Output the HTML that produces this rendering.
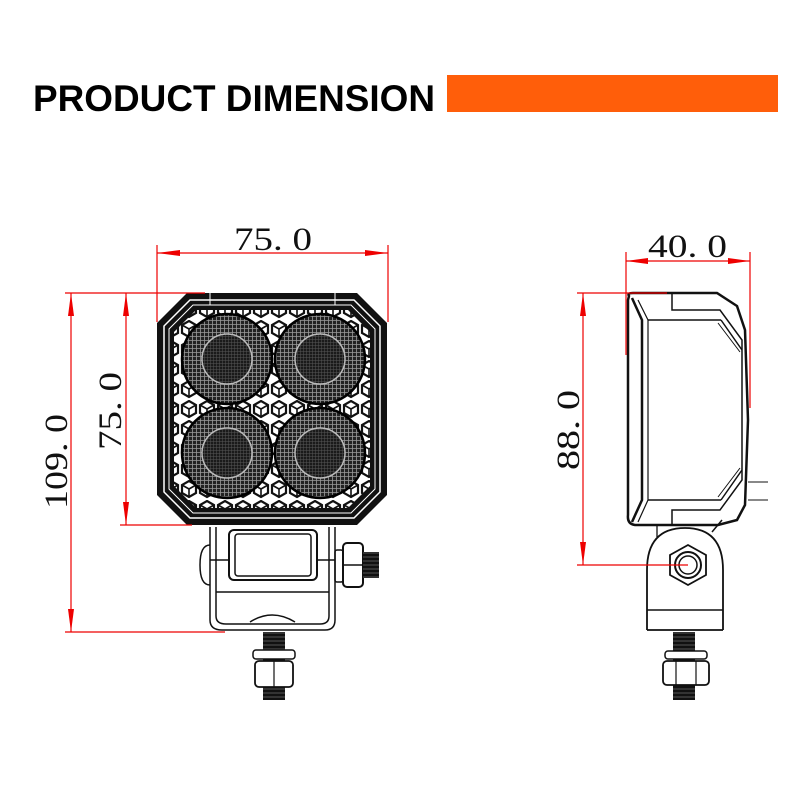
<!DOCTYPE html>
<html><head><meta charset="utf-8"><style>
html,body{margin:0;padding:0;background:#fff;width:800px;height:800px;overflow:hidden}
svg{display:block}
</style></head><body>
<svg width="800" height="800" viewBox="0 0 800 800" xmlns="http://www.w3.org/2000/svg">
<defs>
<pattern id="hex" width="18" height="20" patternUnits="userSpaceOnUse">
<rect width="18" height="20" fill="#fff"/>
<path d="M9 1 L16 5 L16 13 L9 17 L2 13 L2 5 Z" fill="none" stroke="#111" stroke-width="2.2"/>
<path d="M9 9 L9 17 M9 9 L2 5 M9 9 L16 5" stroke="#111" stroke-width="1.6"/>
</pattern>
<pattern id="grid" width="4" height="4" patternUnits="userSpaceOnUse">
<rect width="4" height="4" fill="#222"/>
<path d="M0 0.5H4M0.5 0V4" stroke="#9a9a9a" stroke-width="0.8"/>
</pattern>
<pattern id="fine" width="3" height="3" patternUnits="userSpaceOnUse">
<rect width="3" height="3" fill="#1a1a1a"/>
<path d="M0 0.5H3M0.5 0V3" stroke="#555" stroke-width="0.5"/>
</pattern>
<pattern id="thread" width="6" height="4" patternUnits="userSpaceOnUse">
<rect width="6" height="4" fill="#111"/>
<path d="M0 1H6" stroke="#666" stroke-width="0.8"/>
</pattern>
</defs>

<text x="33" y="111" font-family="Liberation Sans, sans-serif" font-weight="bold" font-size="37" textLength="402" lengthAdjust="spacingAndGlyphs" fill="#000">PRODUCT DIMENSION</text>
<rect x="447" y="75" width="331" height="37" fill="#FF5E0A"/>

<path d="M187 293 L357 293 L387 323 L387 495 L357 525 L187 525 L157 495 L157 323 Z" fill="#111"/>
<path d="M190 300 L354 300 L380 326 L380 492 L354 518 L190 518 L164 492 L164 326 Z" fill="none" stroke="#fff" stroke-width="1.5"/>
<path d="M193 305 L351 305 L375 329 L375 489 L351 513 L193 513 L169 489 L169 329 Z" fill="#111" stroke="#fff" stroke-width="1"/>
<path d="M196 310 L348 310 L370 332 L370 486 L348 508 L196 508 L174 486 L174 332 Z" fill="url(#hex)"/>
<line x1="210" y1="293" x2="210" y2="305" stroke="#fff" stroke-width="1"/>
<line x1="335" y1="293" x2="335" y2="305" stroke="#fff" stroke-width="1"/>
<g stroke="#000" stroke-width="2.5">
<circle cx="227" cy="359" r="45" fill="url(#grid)"/>
<circle cx="320" cy="359" r="45" fill="url(#grid)"/>
<circle cx="227" cy="453" r="45" fill="url(#grid)"/>
<circle cx="320" cy="453" r="45" fill="url(#grid)"/>
</g>
<g stroke="#bbb" stroke-width="1.5" fill="url(#fine)">
<circle cx="227" cy="359" r="25"/>
<circle cx="320" cy="359" r="25"/>
<circle cx="227" cy="453" r="25"/>
<circle cx="320" cy="453" r="25"/>
</g>

<g fill="none" stroke="#111" stroke-width="1.5">
<path d="M210 527 L210 620 Q210 630 222 630 L325 630 Q335 630 335 620 L335 527"/>
<path d="M216 527 L216 616 Q216 624 226 624 L320 624 Q329 624 329 616 L329 527"/>
<rect x="229" y="530" width="88" height="50" rx="5" stroke-width="2"/>
<rect x="235" y="534" width="76" height="42" rx="3"/>
<line x1="210" y1="560" x2="229" y2="560"/>
<line x1="317" y1="560" x2="335" y2="560"/>
<line x1="216" y1="592" x2="329" y2="592"/>
<path d="M210 545 Q200 545 200 565 Q200 585 210 585"/>
<path d="M250 622 Q272 608 295 622"/>
<rect x="335" y="550" width="8" height="32" rx="2"/>
<rect x="343" y="543" width="20" height="44" rx="4" stroke-width="2"/>
<line x1="343" y1="565" x2="363" y2="565"/>
</g>
<rect x="363" y="552" width="16" height="26" fill="url(#thread)"/>
<rect x="263" y="632" width="22" height="68" fill="url(#thread)"/>
<rect x="253" y="650" width="42" height="9" rx="3" fill="#fff" stroke="#111" stroke-width="1.5"/>
<rect x="255" y="661" width="38" height="26" rx="4" fill="#fff" stroke="#111" stroke-width="1.8"/>
<line x1="274" y1="661" x2="274" y2="687" stroke="#111" stroke-width="1.2"/>

<g fill="none" stroke="#111">
<path d="M629 296 Q627 293 633 293 L717 293 L737 306 L745 330 L748 420 L745 505 L737 520 L718 525 L635 525 Q627 524 628 515 L628 300 Z" stroke-width="2.5"/>
<path d="M632 298 L642 320 L642 500 L632 522" stroke-width="2.5"/>
<path d="M638 300 L648 320 L648 500 L638 522" stroke-width="1.2"/>
<line x1="648" y1="320" x2="721" y2="320" stroke-width="1.5"/>
<line x1="648" y1="500" x2="721" y2="500" stroke-width="1.5"/>
<path d="M721 320 L742 350 M721 500 L742 470" stroke-width="1.5"/>
<path d="M718 323 L740 352 M718 497 L740 468" stroke-width="1"/>
<path d="M672 293 L672 310 L720 310 L742 340 L742 480 L720 510 L672 510 L672 525" stroke-width="1.5"/>
<line x1="748" y1="482" x2="768" y2="482" stroke-width="1"/>
<line x1="748" y1="500" x2="768" y2="500" stroke-width="1"/>
<path d="M647 625 L647 570 Q647 528 685 528 Q723 528 723 570 L723 625" stroke-width="1.8"/>
<line x1="647" y1="610" x2="723" y2="610" stroke-width="1.5"/>
<line x1="647" y1="630" x2="723" y2="630" stroke-width="1.8"/>
<line x1="647" y1="625" x2="647" y2="630" stroke-width="1.8"/>
<line x1="723" y1="625" x2="723" y2="630" stroke-width="1.8"/>
<line x1="657" y1="525" x2="657" y2="537" stroke-width="1.3"/>
<line x1="712" y1="532" x2="722" y2="520" stroke-width="1.5"/>
<path d="M688 545 L706 555 L706 575 L688 585 L670 575 L670 555 Z" stroke-width="1.8"/>
<circle cx="688" cy="565" r="13" stroke-width="2"/>
<circle cx="688" cy="565" r="9" stroke-width="1.5"/>
</g>
<rect x="673" y="632" width="22" height="68" fill="url(#thread)"/>
<rect x="665" y="651" width="42" height="8" rx="3" fill="#fff" stroke="#111" stroke-width="1.5"/>
<rect x="663" y="661" width="46" height="24" rx="4" fill="#fff" stroke="#111" stroke-width="1.8"/>
<line x1="676" y1="661" x2="676" y2="685" stroke="#111" stroke-width="1.2"/>
<line x1="696" y1="661" x2="696" y2="685" stroke="#111" stroke-width="1.2"/>

<g stroke="#e00" stroke-width="1.2" fill="none">
<line x1="157" y1="245" x2="157" y2="322"/>
<line x1="388" y1="245" x2="388" y2="322"/>
<line x1="157" y1="253" x2="388" y2="253"/>
<line x1="65" y1="293" x2="205" y2="293"/>
<line x1="120" y1="525" x2="192" y2="525"/>
<line x1="65" y1="632" x2="225" y2="632"/>
<line x1="71" y1="293" x2="71" y2="632"/>
<line x1="126" y1="293" x2="126" y2="525"/>
<line x1="626" y1="252" x2="626" y2="355"/>
<line x1="750" y1="252" x2="750" y2="408"/>
<line x1="626" y1="261" x2="750" y2="261"/>
<line x1="577" y1="293" x2="667" y2="293"/>
<line x1="577" y1="565" x2="688" y2="565"/>
<line x1="583" y1="293" x2="583" y2="565"/>
</g>
<g fill="#e00">
<path d="M157 253 L180 250 L180 256 Z"/><path d="M388 253 L365 250 L365 256 Z"/>
<path d="M626 261 L648 258 L648 264 Z"/><path d="M750 261 L728 258 L728 264 Z"/>
<path d="M71 293 L68 316 L74 316 Z"/><path d="M71 632 L68 609 L74 609 Z"/>
<path d="M126 293 L123 316 L129 316 Z"/><path d="M126 525 L123 502 L129 502 Z"/>
<path d="M583 293 L580 316 L586 316 Z"/><path d="M583 565 L580 542 L586 542 Z"/>
</g>
<g font-family="Liberation Serif, serif" font-size="33" fill="#111">
<text x="234" y="250" textLength="78" lengthAdjust="spacingAndGlyphs">75. 0</text>
<text x="648" y="257" textLength="79" lengthAdjust="spacingAndGlyphs">40. 0</text>
<text transform="translate(121,450) rotate(-90)" textLength="78" lengthAdjust="spacingAndGlyphs">75. 0</text>
<text transform="translate(67,509) rotate(-90)" textLength="95" lengthAdjust="spacingAndGlyphs">109. 0</text>
<text transform="translate(579,470) rotate(-90)" textLength="80" lengthAdjust="spacingAndGlyphs">88. 0</text>
</g>
</svg>
</body></html>
